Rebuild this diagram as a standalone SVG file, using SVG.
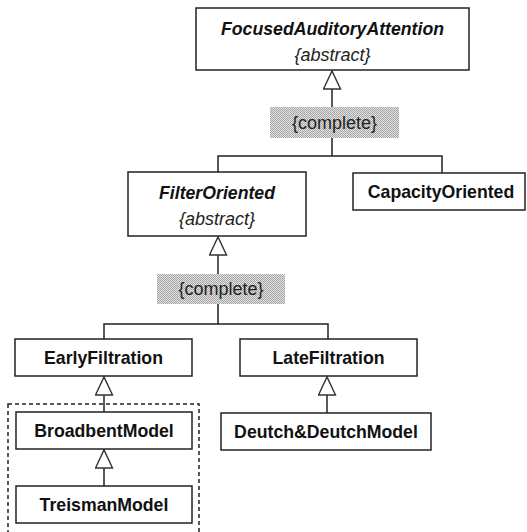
<svg xmlns="http://www.w3.org/2000/svg" width="527" height="532" viewBox="0 0 527 532">
<defs>
<pattern id="dots" patternUnits="userSpaceOnUse" width="2" height="2">
<rect width="2" height="2" fill="#e2e2e2"/>
<rect width="1" height="1" fill="#a6a6a6"/>
<rect x="1" y="1" width="1" height="1" fill="#a6a6a6"/>
</pattern>
<marker id="gen" markerWidth="22" markerHeight="22" refX="19" refY="9" orient="auto" markerUnits="userSpaceOnUse">
<path d="M1,0.5 L19,9 L1,17.5 Z" fill="#fff" stroke="#333" stroke-width="1.4"/>
</marker>
</defs>
<style>
.box{fill:#fff;stroke:#222;stroke-width:1.5}
.line{fill:none;stroke:#222;stroke-width:1.5}
.b{font-family:"Liberation Sans",Arial,sans-serif;font-weight:bold;font-size:17.7px;fill:#111;text-anchor:middle}
.bi{font-family:"Liberation Sans",Arial,sans-serif;font-weight:bold;font-style:italic;font-size:17.7px;fill:#111;text-anchor:middle}
.i{font-family:"Liberation Sans",Arial,sans-serif;font-style:italic;font-size:18px;fill:#222;text-anchor:middle}
.lbl{font-family:"Liberation Sans",Arial,sans-serif;font-size:18px;fill:#222;text-anchor:middle}
.tag{fill:url(#dots);stroke:none}
</style>
<rect x="8" y="404" width="191" height="140" fill="none" stroke="#222" stroke-width="1.5" stroke-dasharray="4 3"/>
<g id="connectors">
<path class="line" d="M332,107 V71" marker-end="url(#gen)"/>
<path class="line" d="M332,138 V156 M218,172 V156 H442 V173"/>
<rect class="tag" x="270" y="107" width="129" height="31"/>
<text class="lbl" x="334.5" y="129">{complete}</text>
<path class="line" d="M218,274 V237" marker-end="url(#gen)"/>
<path class="line" d="M218,304 V324 M104,339 V324 H328 V339"/>
<rect class="tag" x="157" y="274" width="128" height="30"/>
<text class="lbl" x="221" y="295">{complete}</text>
<path class="line" d="M104,412 V377" marker-end="url(#gen)"/>
<path class="line" d="M104,486 V450" marker-end="url(#gen)"/>
<path class="line" d="M327,413 V377" marker-end="url(#gen)"/>
</g>
<g id="FocusedAuditoryAttention">
<rect class="box" x="196" y="8" width="273" height="62"/>
<text class="bi" x="332.5" y="35">FocusedAuditoryAttention</text>
<text class="i" x="332.5" y="61">{abstract}</text>
</g>
<g id="FilterOriented">
<rect class="box" x="128" y="172" width="178" height="64"/>
<text class="bi" x="217" y="199">FilterOriented</text>
<text class="i" x="217" y="225">{abstract}</text>
</g>
<g id="CapacityOriented">
<rect class="box" x="353" y="173" width="172" height="37"/>
<text class="b" x="441" y="198">CapacityOriented</text>
</g>
<g id="EarlyFiltration">
<rect class="box" x="15" y="339" width="177" height="37"/>
<text class="b" x="103.5" y="364">EarlyFiltration</text>
</g>
<g id="LateFiltration">
<rect class="box" x="240" y="339" width="177" height="37"/>
<text class="b" x="328.5" y="364">LateFiltration</text>
</g>
<g id="BroadbentModel">
<rect class="box" x="16" y="412" width="176" height="37"/>
<text class="b" x="104" y="437">BroadbentModel</text>
</g>
<g id="TreismanModel">
<rect class="box" x="16" y="486" width="176" height="37"/>
<text class="b" x="104" y="511">TreismanModel</text>
</g>
<g id="DeutchDeutchModel">
<rect class="box" x="221" y="413" width="210" height="37"/>
<text class="b" x="326" y="438">Deutch&amp;DeutchModel</text>
</g>
</svg>
